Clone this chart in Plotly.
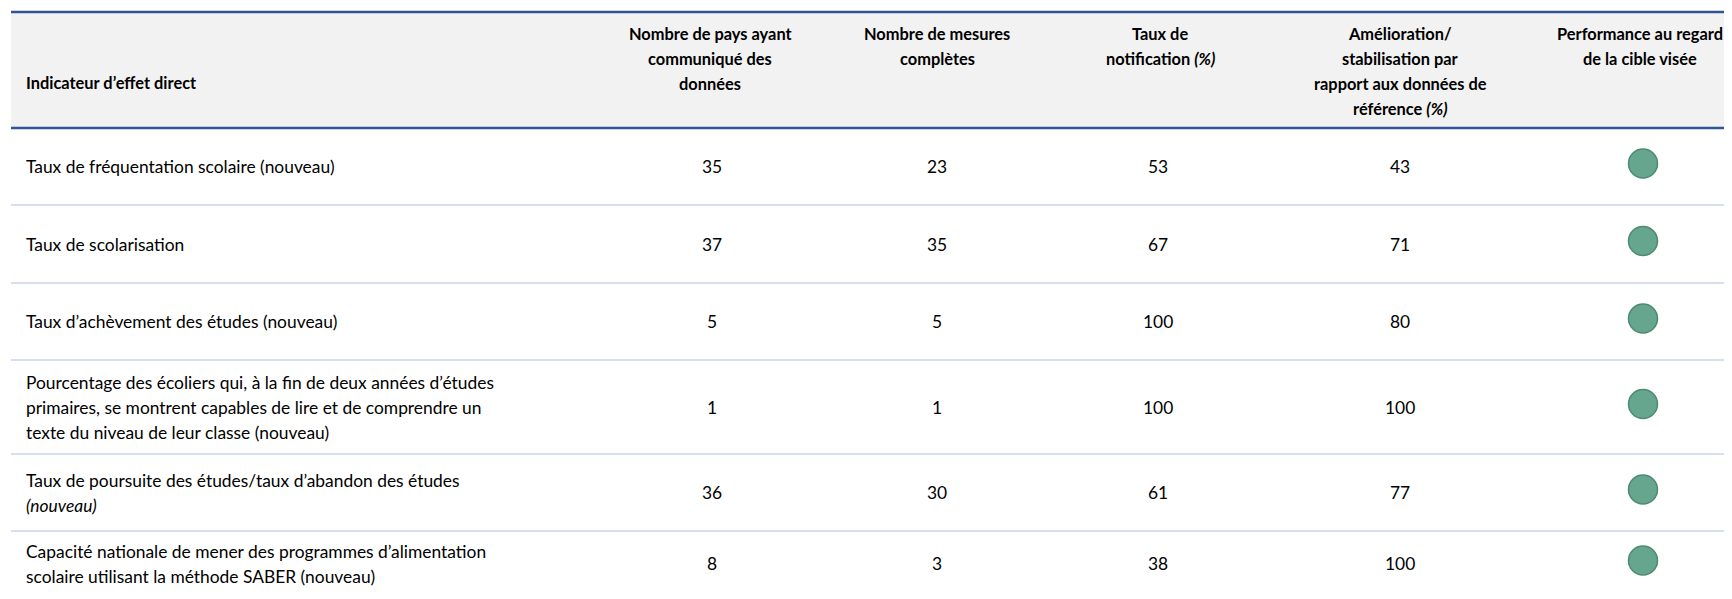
import plotly.graph_objects as go

# ---------------- data ----------------
headers = [
    "Indicateur d’effet direct",
    "Nombre de pays ayant<br>communiqué des<br>données",
    "Nombre de mesures<br>complètes",
    "Taux de<br>notification <i>(%)</i>",
    "Amélioration/<br>stabilisation par<br>rapport aux données de<br>référence <i>(%)</i>",
    "Performance au regard<br>de la cible visée",
]
indicators = [
    "Taux de fréquentation scolaire (nouveau)",
    "Taux de scolarisation",
    "Taux d’achèvement des études (nouveau)",
    "Pourcentage des écoliers qui, à la fin de deux années d’études<br>primaires, se montrent capables de lire et de comprendre un<br>texte du niveau de leur classe (nouveau)",
    "Taux de poursuite des études/taux d’abandon des études<br><i>(nouveau)</i>",
    "Capacité nationale de mener des programmes d’alimentation<br>scolaire utilisant la méthode SABER (nouveau)",
]
countries_reporting = [35, 37, 5, 1, 36, 8]
complete_measures = [23, 35, 5, 1, 30, 3]
reporting_rate = [53, 67, 100, 100, 61, 38]
improvement = [43, 71, 80, 100, 77, 100]
performance = ["on track", "on track", "on track", "on track", "on track", "on track"]

# ---------------- layout config ----------------
W, H = 1732, 599
OFF = 8  # page body margin compensation
FONT = "Lato"
FS_BODY = 17.4
FS_HEAD = 16.4
LS = 25  # line spacing in px
X_LEFT_LINE = 11
X_TEXT = 24
COL_X = [None, 712, 937, 1158, 1400, 1643]
HEAD_X = [None, 710, 937, 1160, 1400, 1640]
HEADER_TOP, HEADER_BOTTOM = 12, 128
ROW_BOUNDS = [128, 205, 283, 360, 454, 531, 596]
PERF_COLORS = {"on track": "#66A68F"}
PERF_BORDER = "#4C8A72"

fig = go.Figure()
shapes = []
annotations = []

# header background
shapes.append(dict(type="rect", xref="x", yref="y", x0=X_LEFT_LINE, x1=W + OFF,
                   y0=HEADER_TOP, y1=HEADER_BOTTOM, fillcolor="#F2F2F2",
                   line=dict(width=0), layer="below"))
# row separators
for b in ROW_BOUNDS[1:-1]:
    shapes.append(dict(type="line", xref="x", yref="y", x0=X_LEFT_LINE, x1=W + OFF,
                       y0=b, y1=b, line=dict(color="#D6DEEF", width=2)))
# header blue lines
for b in (HEADER_TOP, HEADER_BOTTOM):
    shapes.append(dict(type="line", xref="x", yref="y", x0=X_LEFT_LINE, x1=W + OFF,
                       y0=b, y1=b, line=dict(color="#2F5597", width=2.5)))


def add_lines(text, x, yc, anchor, bold=False, top=None, size=FS_BODY):
    lines = text.split("<br>")
    n = len(lines)
    for i, ln in enumerate(lines):
        if top is not None:
            y = top + i * LS
        else:
            y = yc + (i - (n - 1) / 2) * LS
        t = f"<b>{ln}</b>" if bold else ln
        annotations.append(dict(x=x, y=y, xref="x", yref="y", text=t,
                                showarrow=False, xanchor=anchor, yanchor="middle",
                                font=dict(family=FONT, size=size, color="#000000")))


# headers
add_lines(headers[0], X_TEXT, 82, "left", bold=True, size=FS_HEAD)
for j in range(1, 6):
    add_lines(headers[j], HEAD_X[j], None, "center", bold=True, top=33, size=FS_HEAD)

# body
cols = [countries_reporting, complete_measures, reporting_rate, improvement]
row_centres = [(ROW_BOUNDS[i] + ROW_BOUNDS[i + 1]) / 2 for i in range(len(indicators))]
for i, ind in enumerate(indicators):
    yc = row_centres[i]
    add_lines(ind, X_TEXT, yc, "left")
    for j, col in enumerate(cols, start=1):
        add_lines(str(col[i]), COL_X[j], yc, "center")

fig.add_trace(go.Scatter(
    x=[COL_X[5]] * len(performance),
    y=[c - 3 for c in row_centres],
    mode="markers",
    marker=dict(size=29, color=[PERF_COLORS[p] for p in performance],
                line=dict(color=PERF_BORDER, width=1.5)),
    hoverinfo="skip", showlegend=False,
))

fig.update_layout(
    width=W, height=H,
    margin=dict(l=0, r=0, t=0, b=0),
    paper_bgcolor="white", plot_bgcolor="white",
    xaxis=dict(range=[OFF, W + OFF], visible=False, fixedrange=True),
    yaxis=dict(range=[H + OFF, OFF], visible=False, fixedrange=True),
    shapes=shapes, annotations=annotations,
    showlegend=False,
)
fig.write_html("out.html", config={"displayModeBar": False})
